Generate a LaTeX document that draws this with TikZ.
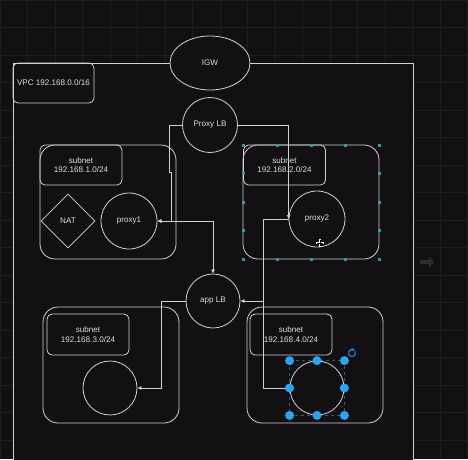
\documentclass[tikz,border=0pt]{standalone}
\usepackage{fontspec}
\setmainfont{Liberation Sans}
\usetikzlibrary{arrows.meta,positioning,shapes.geometric}

\definecolor{bgcol}{HTML}{121013}
\definecolor{gridcol}{HTML}{1F1D20}
\definecolor{linecol}{HTML}{D2D2D2}
\definecolor{handlecol}{HTML}{2E9AA6}
\definecolor{selcol}{HTML}{27A6F2}
\definecolor{ghostcol}{HTML}{2A302D}

\begin{document}
\begin{tikzpicture}[x=1pt,y=-1pt,line width=0.8pt,
    every node/.style={font=\fontsize{8.1}{9.6}\selectfont,text=white!88!black,align=center},
    box/.style={draw=linecol,fill=bgcol,rounded corners=15pt,minimum width=136pt,minimum height=114pt,inner sep=0pt},
    tag/.style={draw=linecol,rounded corners=5pt,minimum width=82pt,minimum height=40pt,inner sep=0pt},
    blob/.style={draw=linecol,fill=bgcol,circle,minimum size=55pt,inner sep=0pt},
    conn/.style={draw=linecol,line width=0.7pt},
    tip/.style={-{Latex[length=4pt,width=4pt]}},
    twotips/.style={{Latex[length=4pt,width=4pt]}-{Latex[length=4pt,width=4pt]}}]
  \useasboundingbox (0,0) rectangle (468,459);
  \clip (0,0) rectangle (468,459);
  \fill[bgcol] (0,0) rectangle (468,459);
  \draw[gridcol,step=27.5pt,line width=0.5pt] (0,0) grid (468,459);
  \fill[ghostcol] (420,260) rectangle (429,264); % faint side arrow
  \fill[ghostcol] (429,257) -- (434,262) -- (429,267) -- cycle;
  % VPC
  \draw[linecol,fill=bgcol] (13,63) rectangle (413,480);
  \node[tag,minimum width=81pt] (vpc) at (53.5,83) {VPC 192.168.0.0/16};
  \node[draw=linecol,fill=bgcol,ellipse,minimum width=80pt,minimum height=54pt] (igw) at (210,63) {IGW};
  \node[blob] (proxylb) at (210,125) {Proxy LB};
  % subnets
  \node[box] (sub1) at (108,202) {};
  \node[tag] (tag1) at (81,165) {subnet\\192.168.1.0/24};
  \node[draw=linecol,diamond,minimum width=54pt,minimum height=54pt,inner sep=0pt] (nat) at (68,221) {NAT};
  \node[blob,minimum size=56pt] (proxy1) at (129,221) {proxy1};
  \node[box] (sub2) at (311,202) {};
  \node[tag] (tag2) at (284.5,165) {subnet\\192.168.2.0/24};
  \node[blob,minimum size=56pt] (proxy2) at (317,219) {proxy2};
  \node[blob,minimum size=54pt] (applb) at (213,301) {app LB};
  \node[box,minimum height=116pt] (sub3) at (111,365) {};
  \node[tag,minimum height=41pt] (tag3) at (88,334.5) {subnet\\192.168.3.0/24};
  \node[blob,minimum size=54pt] (vm3) at (110,388) {};
  \node[box,minimum height=116pt] (sub4) at (315,365) {};
  \node[tag,minimum height=41pt] (tag4) at (291,334.5) {subnet\\192.168.4.0/24};
  \node[blob,minimum size=54pt] (vm4) at (317,388) {};
  % connectors
  \draw[conn,tip] (proxylb.west) -| ++(-13,47) -- ++(2,0) |- (proxy1.east);
  \draw[conn,twotips] (proxy1.east) -| (applb.north);
  \draw[conn,tip] (proxylb.east) -| (proxy2.west);
  \path (proxy2.west) ++(-25,0) coordinate (bend);
  \draw[conn,tip] (proxy2.west) -- (bend) |- (applb.east);
  \draw[conn,tip] (bend) |- (vm4.west);
  \draw[conn,tip] (applb.west) -- ++(-24,0) |- (vm3.east);
  % selection handles
  \foreach \i in {0,...,4}{
    \fill[handlecol] (243+34*\i-1.5,143.5) rectangle ++(3,3);
    \fill[handlecol] (243+34*\i-1.5,257.5) rectangle ++(3,3);
    \fill[handlecol] (241.5,145+28.5*\i-1.5) rectangle ++(3,3);
    \fill[handlecol] (377.5,145+28.5*\i-1.5) rectangle ++(3,3);
  }
  \draw[handlecol!60!bgcol,dashed,line width=0.5pt] (vm4.west |- vm4.north) rectangle (vm4.east |- vm4.south);
  \foreach \h in {west,center,east}
    \foreach \v in {north,center,south}
      \fill[selcol] (vm4.\h |- vm4.\v) circle (4.5pt);
  \fill[bgcol] (vm4.center) circle (5pt);
  \draw[selcol,line width=0.9pt] (352,353) ++(70:3.5pt) arc (70:400:3.5pt);
  \fill[selcol] (351.5,348) -- (354.5,349.5) -- (351.5,351) -- cycle;
  % cursor
  \draw[white,line width=1.6pt] (316,243) -- (324,243) (320,239) -- (320,247);
  \draw[black,line width=0.5pt] (317,243) -- (323,243) (320,240) -- (320,246);
\end{tikzpicture}
\end{document}
